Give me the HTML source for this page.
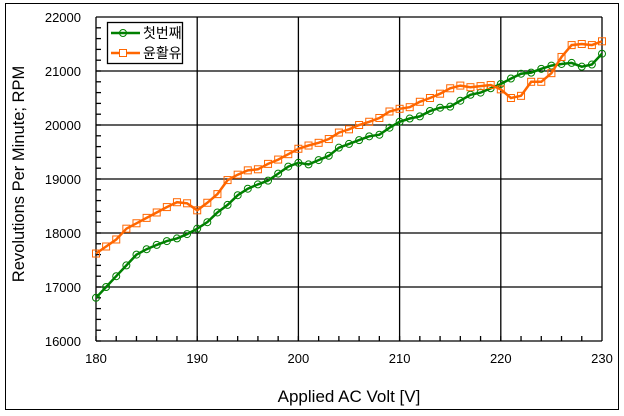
<!DOCTYPE html>
<html><head><meta charset="utf-8"><style>
body{margin:0;background:#fff;width:624px;height:416px;overflow:hidden}
svg{display:block;font-family:"Liberation Sans","Noto Sans CJK KR",sans-serif}
</style></head><body>
<svg id="s" width="624" height="416" xmlns="http://www.w3.org/2000/svg">
<rect x="5.5" y="3.5" width="613" height="406" fill="none" stroke="#000" stroke-width="1"/>
<g id="grid" stroke="#000" stroke-width="1.3"></g>
<g id="ser"></g>
<g font-size="13" fill="#000" id="lbl"></g>
<text x="349" y="402" font-size="17" text-anchor="middle">Applied AC Volt [V]</text>
<text transform="translate(24,174) rotate(-90)" font-size="16.5" text-anchor="middle">Revolutions Per Minute; RPM</text>
<rect x="107.5" y="22.5" width="75" height="41" fill="#fff" stroke="#000" stroke-width="1.3"/>
<line x1="111" y1="33" x2="140" y2="33" stroke="#008000" stroke-width="2.5"/>
<circle cx="123" cy="33" r="3.5" fill="none" stroke="#008000"/>
<line x1="111" y1="53" x2="140" y2="53" stroke="#ff6600" stroke-width="2.5"/>
<rect x="119.5" y="49.5" width="7" height="7" fill="#fff" stroke="#ff6600"/>
<text x="143" y="38" font-size="14">첫번째</text>
<text x="143" y="58" font-size="14">윤활유</text>
</svg>
<script>
var X=function(v){return 96+(v-180)*10.12},Y=function(r){return 341-(r-16000)*0.054};
var g=document.getElementById('grid'),l=document.getElementById('lbl'),S='http://www.w3.org/2000/svg';
function el(p,t,a){var e=document.createElementNS(S,t);for(var k in a)e.setAttribute(k,a[k]);p.appendChild(e);return e}
for(var v=180;v<=230;v+=10){el(g,'line',{x1:X(v),x2:X(v),y1:17,y2:341});var t=el(l,'text',{x:X(v),y:363,'text-anchor':'middle'});t.textContent=v}
for(var r=16000;r<=22000;r+=1000){el(g,'line',{x1:96,x2:X(230),y1:Y(r),y2:Y(r)});var t=el(l,'text',{x:81,y:Y(r)+5,'text-anchor':'end'});t.textContent=r}
for(var v=180;v<230;v+=2)el(g,'line',{x1:X(v),x2:X(v),y1:341,y2:336});
for(var r=16000;r<22000;r+=200)el(g,'line',{x1:96,x2:101,y1:Y(r),y2:Y(r)});
var G=[16800,17000,17200,17400,17600,17700,17780,17850,17900,17980,18080,18200,18380,18520,18700,18820,18900,18970,19100,19230,19300,19270,19350,19430,19580,19650,19720,19790,19820,19950,20060,20120,20160,20260,20320,20340,20450,20560,20600,20680,20760,20860,20950,20970,21040,21100,21130,21150,21080,21120,21320];
var O=[17620,17750,17880,18080,18180,18280,18380,18480,18570,18550,18420,18560,18720,18980,19080,19160,19180,19280,19360,19460,19560,19620,19670,19740,19860,19920,20000,20060,20130,20250,20300,20330,20430,20500,20580,20680,20730,20700,20720,20740,20660,20500,20540,20800,20800,20960,21260,21480,21500,21480,21550];
var s=document.getElementById('ser');
function draw(d,c,sq){var p=d.map(function(r,i){return X(180+i).toFixed(1)+','+Y(r).toFixed(1)}).join(' ');
el(s,'polyline',{points:p,fill:'none',stroke:c,'stroke-width':2.5});
d.forEach(function(r,i){var x=X(180+i),y=Y(r);if(sq)el(s,'rect',{x:x-3.5,y:y-3.5,width:7,height:7,fill:'none',stroke:c});else el(s,'circle',{cx:x,cy:y,r:3.5,fill:'none',stroke:c})})}
draw(G,'#008000',0);draw(O,'#ff6600',1);
</script>
</body></html>
